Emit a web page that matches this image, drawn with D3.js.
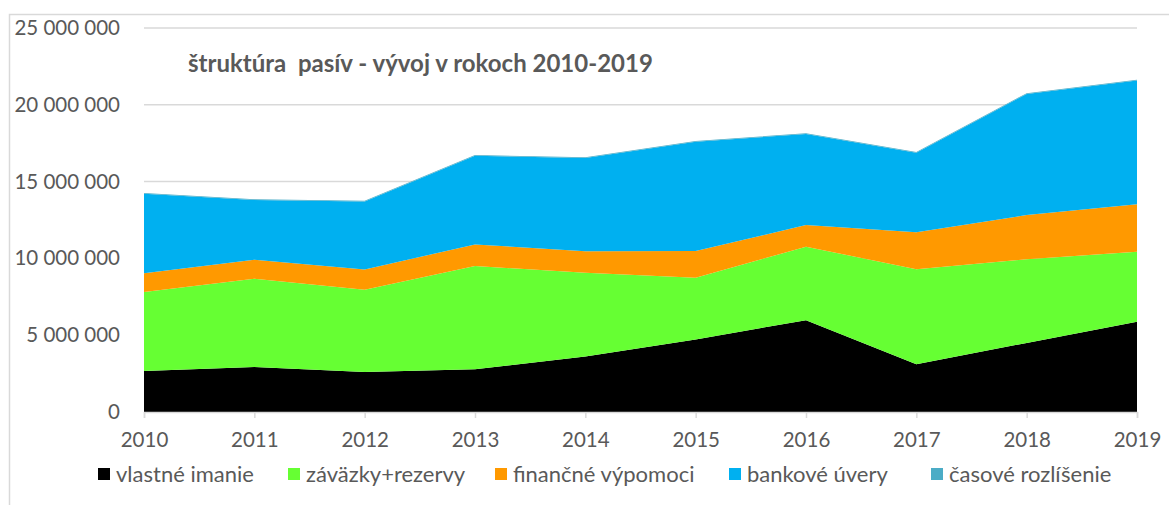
<!DOCTYPE html>
<html>
<head>
<meta charset="utf-8">
<script src="https://cdn.jsdelivr.net/npm/d3@7"></script>
<style>
  body { margin: 0; background: #fff; }
  svg { display: block; font-family: Lato, "Open Sans", sans-serif; }
  .axis text { fill: #595959; font-size: 20.5px; }
  .legend text { fill: #595959; font-size: 22px; }
</style>
</head>
<body>
<svg id="chart"></svg>
<script>
// struktura pasiv - stacked area

var years = [2010, 2011, 2012, 2013, 2014, 2015, 2016, 2017, 2018, 2019];

var vlastneImanie = [2670000, 2930000, 2600000, 2780000, 3620000, 4720000, 5980000, 3110000, 4500000, 5870000];
var zavazkyRezervy = [5140000, 5750000, 5360000, 6720000, 5450000, 4020000, 4780000, 6190000, 5450000, 4560000];
var financneVypomoci = [1230000, 1240000, 1320000, 1410000, 1390000, 1740000, 1410000, 2400000, 2870000, 3090000];
var bankoveUvery = [5170000, 3890000, 4430000, 5770000, 6070000, 7120000, 5930000, 5180000, 7890000, 8060000];
var casoveRozlisenie = [50000, 40000, 40000, 50000, 50000, 50000, 50000, 40000, 50000, 50000];

var seriesNames = ["vlastné imanie", "záväzky+rezervy", "finančné výpomoci", "bankové úvery", "časové rozlíšenie"];
var seriesValues = [vlastneImanie, zavazkyRezervy, financneVypomoci, bankoveUvery, casoveRozlisenie];
var colors = ["#000000", "#66ff33", "#ff9900", "#00b0f0", "#4bacc6"];

var yTicks = [0, 5000000, 10000000, 15000000, 20000000, 25000000];
var title = "štruktúra  pasív - vývoj v rokoch 2010-2019";

var W = 1169, H = 505;
var margin = {top: 28, right: 32, bottom: 93, left: 144};

var svg = d3.select("#chart").attr("width", W).attr("height", H);

// outer frame
svg.append("rect")
    .attr("x", 9.5).attr("y", 14.5)
    .attr("width", W + 20).attr("height", H + 20)
    .attr("fill", "none")
    .attr("stroke", "#d9d9d9")
    .attr("stroke-width", 1.5);

var table = years.map(function(yr, i) {
    var row = {year: yr};
    seriesNames.forEach(function(n, j) { row[n] = seriesValues[j][i]; });
    return row;
});

var x = d3.scalePoint().domain(years).range([margin.left, W - margin.right]);
var y = d3.scaleLinear().domain([0, 25000000]).range([H - margin.bottom, margin.top]);

var loc = d3.formatLocale({decimal: ",", thousands: "\u00a0", grouping: [3], currency: ["", " €"]});
var fmt = loc.format(",");

// gridlines
svg.append("g")
    .selectAll("line")
    .data(yTicks.slice(1))
    .enter().append("line")
    .attr("x1", margin.left).attr("x2", W - margin.right)
    .attr("y1", function(d) { return y(d); })
    .attr("y2", function(d) { return y(d); })
    .attr("stroke", "#d9d9d9")
    .attr("stroke-width", 1.5);

// areas
var stack = d3.stack().keys(seriesNames);
var layers = stack(table);

var area = d3.area()
    .x(function(d) { return x(d.data.year); })
    .y0(function(d) { return y(d[0]); })
    .y1(function(d) { return y(d[1]); });

svg.append("g")
    .selectAll("path")
    .data(layers)
    .enter().append("path")
    .attr("fill", function(d, i) { return colors[i]; })
    .attr("d", area);

// y axis
var yAxis = d3.axisLeft(y).tickValues(yTicks).tickFormat(fmt).tickSize(0).tickPadding(24);
svg.append("g")
    .attr("class", "axis")
    .attr("transform", "translate(" + margin.left + ",0)")
    .call(yAxis)
    .call(function(g) { g.select(".domain").remove(); })
    .selectAll("text").style("font-family", "Lato, sans-serif");

// x axis
var xAxis = d3.axisBottom(x).tickSize(6).tickPadding(14);
var gx = svg.append("g")
    .attr("class", "axis")
    .attr("transform", "translate(0," + y(0) + ")")
    .call(xAxis);
gx.select(".domain").attr("stroke", "#d9d9d9").attr("stroke-width", 1.5);
gx.selectAll(".tick line").attr("stroke", "#d9d9d9").attr("stroke-width", 1.5);
gx.selectAll("text").style("font-family", "Lato, sans-serif");

// title
svg.append("text")
    .attr("x", 188)
    .attr("y", 72)
    .attr("fill", "#595959")
    .style("font-size", "24px")
    .style("font-weight", "bold")
    .style("white-space", "pre")
    .text(title);

// legend
var legendX = [98, 288, 495, 729, 931];
var lg = svg.append("g").attr("class", "legend");
seriesNames.forEach(function(n, i) {
    lg.append("rect")
        .attr("x", legendX[i]).attr("y", 468)
        .attr("width", 12).attr("height", 12)
        .attr("fill", colors[i]);
    lg.append("text")
        .attr("x", legendX[i] + 18)
        .attr("y", 482)
        .text(n);
});
</script>
</body>
</html>
